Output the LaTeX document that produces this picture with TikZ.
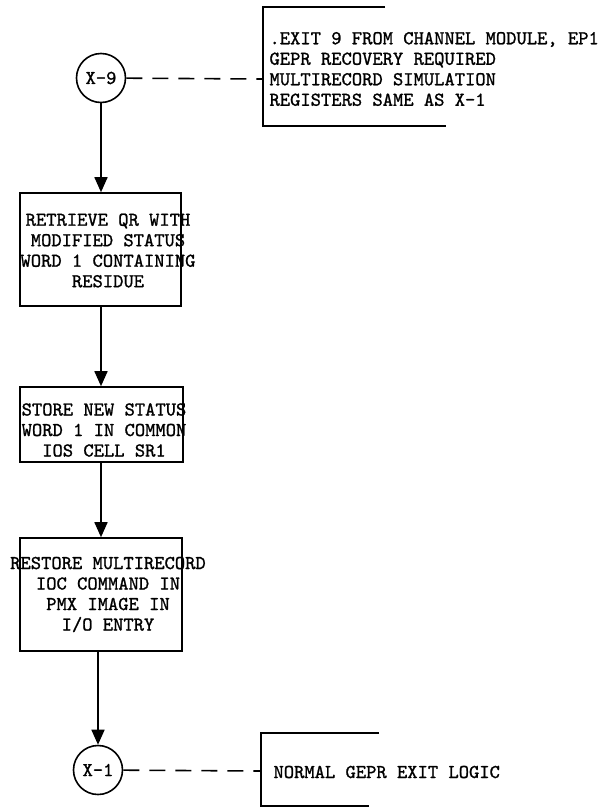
\documentclass[tikz,border=0pt]{standalone}
\usepackage{fontspec}
\usepackage{tikz}
\usetikzlibrary{arrows.meta,positioning}
\newfontfamily\typewriter{lmmono10-regular.otf}[FakeBold=1.2]

\begin{document}
\begin{tikzpicture}[x=1pt,y=-1pt,
  typo/.style={font=\fontsize{19.6}{20.5}\selectfont\typewriter},
  procbox/.style={draw,line width=1.6pt,inner sep=0pt},
  conn/.style={draw,circle,line width=1.6pt,minimum size=49pt,inner sep=0pt,typo},
  bracket/.style={line width=1.6pt},
  flow/.style={-{Triangle[width=13pt,length=15pt]},line width=1.7pt},
  note/.style={dash pattern=on 16pt off 10pt,line width=1.6pt}]
  \useasboundingbox (0,0) rectangle (604,809);

  % Entry connector and its note
  \node[conn] (x9) at (101,78) {X-9};
  \coordinate (note9) at (263,79);
  \draw[bracket] (385,7) -- (263,7) -- (263,126) -- (446,126);
  \node[typo,anchor=west,align=left] (exit9) at (266,69) {.EXIT 9 FROM CHANNEL MODULE, EP1\\GEPR RECOVERY REQUIRED\\MULTIRECORD SIMULATION\\REGISTERS SAME AS X-1};
  \draw[note] (x9) -- (note9);

  % Process boxes
  \node[procbox,minimum width=161pt,minimum height=113pt] (retrieve) at (100.5,249.5) {};
  \node[typo,align=center] (retrievetxt) at (108,250.5) {RETRIEVE QR WITH\\MODIFIED STATUS\\WORD 1 CONTAINING\\RESIDUE};
  \node[procbox,minimum width=163pt,minimum height=75pt] (store) at (101.5,424.5) {};
  \node[typo,align=center] (storetxt) at (104,430) {STORE NEW STATUS\\WORD 1 IN COMMON\\IOS CELL SR1};
  \node[procbox,minimum width=162pt,minimum height=113pt] (restore) at (101,594.5) {};
  \node[typo,align=center] (restoretxt) at (108,594.5) {RESTORE MULTIRECORD\\IOC COMMAND IN\\PMX IMAGE IN\\I/O ENTRY};

  % Exit connector and its note
  \node[conn] (x1) at (98,770) {X-1};
  \coordinate (note1) at (261,771);
  \draw[bracket] (379,733) -- (261,733) -- (261,806) -- (369,806);
  \node[typo,anchor=west] (exit1) at (270,772) {NORMAL GEPR EXIT LOGIC};
  \draw[note] (x1) -- (note1);

  % Flow
  \draw[flow] (x9) -- (x9 |- retrieve.north);
  \draw[flow] (retrieve.south -| x9) -- (x9 |- store.north);
  \draw[flow] (store.south -| x9) -- (x9 |- restore.north);
  \draw[flow] (x1 |- restore.south) -- (x1);
\end{tikzpicture}
\end{document}
